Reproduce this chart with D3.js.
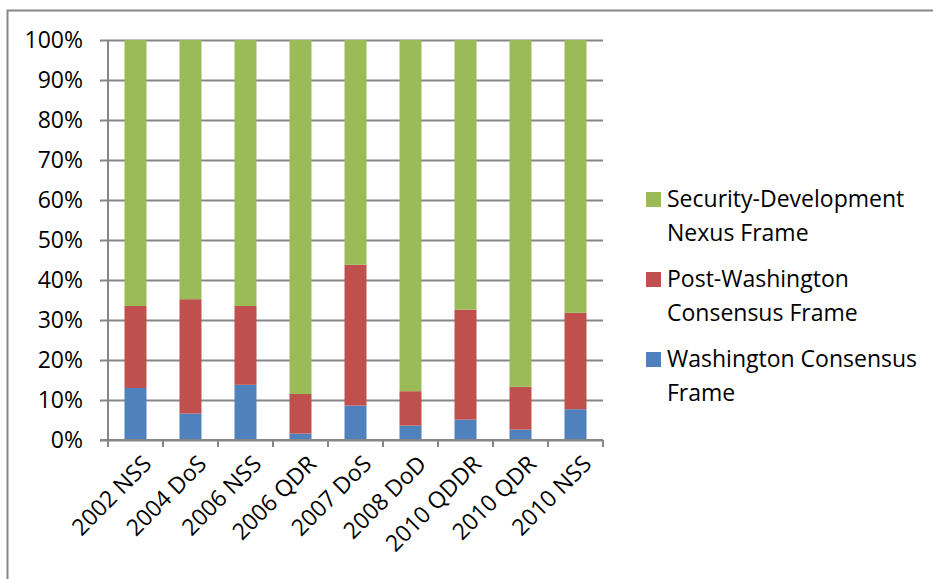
<!DOCTYPE html>
<html>
<head>
<meta charset="utf-8">
<script src="https://cdn.jsdelivr.net/npm/d3@7"></script>
<style>
  body { margin: 0; background: #fff; }
  text { font-family: "Open Sans", "Noto Sans", sans-serif; fill: #000; }
</style>
</head>
<body>
<div id="chart"></div>
<script>
// categories and series (percent of each document)
let docs = ["2002 NSS", "2004 DoS", "2006 NSS", "2006 QDR", "2007 DoS", "2008 DoD", "2010 QDDR", "2010 QDR", "2010 NSS"];
let washington = [13, 6.6, 13.8, 1.6, 8.6, 3.6, 5.1, 2.6, 7.7];
let postWashington = [20.5, 28.6, 19.7, 9.9, 35.2, 8.6, 27.5, 10.7, 24.1];
let nexus = [66.5, 64.8, 66.5, 88.5, 56.2, 87.8, 67.4, 86.7, 68.2];
let seriesNames = ["Washington Consensus Frame", "Post-Washington Consensus Frame", "Security-Development Nexus Frame"];
let yTicks = [0, 0.1, 0.2, 0.3, 0.4, 0.5, 0.6, 0.7, 0.8, 0.9, 1];

let W = 933, H = 579;
let margin = { top: 40, left: 108 },
  width = 495,
  height = 400;

let svg = d3.select("#chart").append("svg")
  .attr("width", W)
  .attr("height", H);

// outer chart frame (right/bottom edges fall outside the picture)
svg.append("rect")
  .attr("x", 7.5).attr("y", 10.5)
  .attr("width", W + 20).attr("height", H + 20)
  .attr("fill", "none")
  .attr("stroke", "#868686")
  .attr("stroke-width", 2);

let g = svg.append("g")
  .attr("transform", "translate(" + margin.left + "," + margin.top + ")");

let x = d3.scaleBand().domain(docs).range([0, width]).paddingInner(0.6).paddingOuter(0.3);
let xTick = d3.scaleBand().domain(docs).range([0, width]);
let y = d3.scaleLinear().domain([0, 1]).range([height, 0]);

// gridlines + y axis
g.append("g")
  .attr("class", "grid")
  .call(d3.axisLeft(y).tickValues(yTicks).tickSize(-width).tickFormat(""))
  .call(s => s.select(".domain").remove())
  .call(s => s.selectAll("line").attr("stroke", "#868686").attr("stroke-width", 2).attr("x1", -8));

g.append("g")
  .call(d3.axisLeft(y).tickValues(yTicks).tickSize(0).tickPadding(25).tickFormat(d3.format(".0%")))
  .call(s => s.select(".domain").remove())
  .call(s => s.selectAll("text").attr("font-size", 23).attr("font-family", "'Open Sans', sans-serif"));

// stacked bars
let rows = docs.map((d, i) => ({ doc: d, w: washington[i], p: postWashington[i], n: nexus[i] }));
let stack = d3.stack().keys(["w", "p", "n"]).offset(d3.stackOffsetExpand);
let colors = ["#4f81bd", "#c0504d", "#9bbb59"];

g.selectAll(".layer")
  .data(stack(rows))
  .join("g")
  .attr("fill", (d, i) => colors[i])
  .selectAll("rect")
  .data(d => d)
  .join("rect")
  .attr("x", d => x(d.data.doc))
  .attr("width", x.bandwidth())
  .attr("y", d => y(d[1]))
  .attr("height", d => y(d[0]) - y(d[1]));

// x axis line + ticks
let xAxis = g.append("g")
  .attr("transform", "translate(0," + height + ")");
xAxis.append("line")
  .attr("x1", -8).attr("x2", width)
  .attr("stroke", "#868686").attr("stroke-width", 2);
g.append("line")
  .attr("x1", 0).attr("x2", 0).attr("y1", 0).attr("y2", height + 7)
  .attr("stroke", "#868686").attr("stroke-width", 2);
xAxis.selectAll(".tk")
  .data(docs)
  .join("line")
  .attr("x1", d => xTick(d) + xTick.bandwidth())
  .attr("x2", d => xTick(d) + xTick.bandwidth())
  .attr("y1", 0).attr("y2", 7)
  .attr("stroke", "#868686").attr("stroke-width", 2);

xAxis.selectAll(".lbl")
  .data(docs)
  .join("text")
  .attr("text-anchor", "end")
  .attr("font-size", 23)
  .attr("transform", d => "translate(" + (x(d) + x.bandwidth() / 2 + 6) + ",14) rotate(-45)")
  .attr("dy", "0.7em")
  .text(d => d);

// legend
let legendItems = [
  { name: seriesNames[2], lines: ["Security-Development", "Nexus Frame"], color: colors[2] },
  { name: seriesNames[1], lines: ["Post-Washington", "Consensus Frame"], color: colors[1] },
  { name: seriesNames[0], lines: ["Washington Consensus", "Frame"], color: colors[0] }
];
let legend = svg.append("g").attr("transform", "translate(646,199)");
let item = legend.selectAll("g")
  .data(legendItems)
  .join("g")
  .attr("transform", (d, i) => "translate(0," + i * 80 + ")");
item.append("rect")
  .attr("x", 0).attr("y", -7)
  .attr("width", 15).attr("height", 15)
  .attr("fill", d => d.color);
item.append("text")
  .attr("x", 21)
  .attr("font-size", 23)
  .selectAll("tspan")
  .data(d => d.lines)
  .join("tspan")
  .attr("x", 21)
  .attr("y", (d, i) => i * 34)
  .attr("dy", "0.35em")
  .text(d => d);
</script>
</body>
</html>
